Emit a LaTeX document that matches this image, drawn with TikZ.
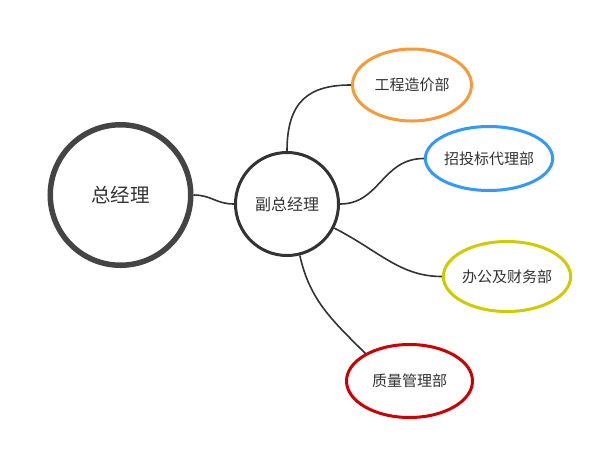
\documentclass[tikz,border=0pt]{standalone}
\usepackage{fontspec}
\setmainfont{Noto Sans CJK SC}
\usetikzlibrary{shapes.geometric}
\definecolor{txt}{HTML}{333333}
\definecolor{ringA}{HTML}{444444}
\definecolor{ringB}{HTML}{333333}
\definecolor{cOrange}{HTML}{F79A3A}
\definecolor{cBlue}{HTML}{3399FF}
\definecolor{cYellow}{HTML}{CCCC00}
\definecolor{cRed}{HTML}{CC0000}
\tikzset{
  topic/.style={circle, draw, inner sep=0pt, text=txt},
  dept/.style={ellipse, draw, line width=3pt, inner sep=0pt, text=txt, font=\fontsize{15}{17}\selectfont},
  link/.style={draw=ringB, line width=1.6pt}
}
\begin{document}
\begin{tikzpicture}[x=1pt,y=-1pt]
\useasboundingbox[fill=white] (0,0) rectangle (598,451);
\node[topic, draw=ringA, line width=5.5pt, minimum size=140.5pt, font=\fontsize{19.5}{21}\selectfont] (gm) at (120.5,195) {总经理};
\node[topic, draw=ringB, line width=3pt, minimum size=103pt, font=\fontsize{16}{18}\selectfont] (vgm) at (287,204) {副总经理};
\node[dept, draw=cOrange, minimum width=119pt, minimum height=72pt] (cost) at (412,85) {工程造价部};
\node[dept, draw=cBlue, minimum width=121pt, minimum height=64pt] (bid) at (489,158.5) {招投标代理部};
\node[dept, draw=cYellow, minimum width=117pt, minimum height=70pt] (off) at (507,276.5) {办公及财务部};
\node[dept, draw=cRed, minimum width=126pt, minimum height=73pt] (qa) at (409.5,381) {质量管理部};

\draw[link] (gm.0) .. controls +(18,0) and +(-18,0) .. (vgm.180);
\draw[link] (vgm.90) .. controls +(0,-50) and +(-42,0) .. (cost.180);
\draw[link] (vgm.0) .. controls +(40,0) and +(-42,0) .. (bid.180);
\draw[link] (vgm.-27.5) .. controls +(45,23) and +(-42,0) .. (off.180);
\draw[link] (vgm.-76) .. controls +(10,45) and +(-33,-33) .. (qa.148);
\end{tikzpicture}
\end{document}
